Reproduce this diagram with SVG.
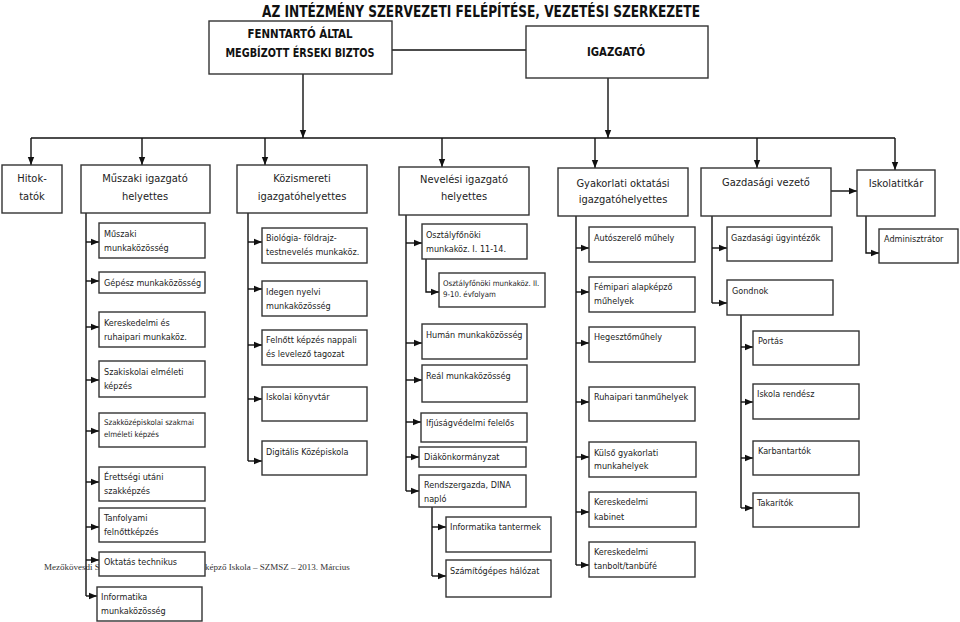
<svg xmlns="http://www.w3.org/2000/svg" width="960" height="622" viewBox="0 0 960 622">
<defs>
<marker id="ah" viewBox="0 0 10 10" refX="10" refY="5" markerWidth="8" markerHeight="8" markerUnits="userSpaceOnUse" orient="auto"><path d="M0,1 L10,5 L0,9 z" fill="#111"/></marker>
<style>
.bx{fill:#fff;stroke:#333;stroke-width:1.4}
.ln{fill:none;stroke:#111;stroke-width:1.4}
.ar{fill:none;stroke:#111;stroke-width:1.4;marker-end:url(#ah)}
text{font-family:"DejaVu Sans Condensed","Liberation Sans",sans-serif;fill:#222}
.t13{font-size:11px;text-anchor:middle}
.t{font-size:9px}
.s{font-size:7.8px}
.b{font-weight:bold;fill:#111}
.ft{font-family:"Liberation Serif","Times New Roman",serif;font-size:9px;fill:#333}
</style>
</defs>
<rect width="960" height="622" fill="#fff"/>
<text class="ft" x="44" y="570">Mezőkövesdi S</text>
<text class="ft" x="205" y="570">képző Iskola – SZMSZ – 2013. Március</text>
<text class="b" x="481" y="17" font-size="15" text-anchor="middle" textLength="438" lengthAdjust="spacingAndGlyphs">AZ INTÉZMÉNY SZERVEZETI FELÉPÍTÉSE, VEZETÉSI SZERKEZETE</text>
<g id="connectors">
<path class="ln" d="M392,50 H526"/>
<path class="ar" d="M303,74 V138"/>
<path class="ar" d="M608,78 V138"/>
<path class="ln" d="M31,138 H895"/>
<path class="ar" d="M31,138 V165"/>
<path class="ar" d="M142,138 V165"/>
<path class="ar" d="M265,138 V165"/>
<path class="ar" d="M442,138 V167"/>
<path class="ar" d="M595,138 V168"/>
<path class="ar" d="M757,138 V168"/>
<path class="ar" d="M895,138 V170"/>
<path class="ar" d="M831,191 H857"/>
<path class="ln" d="M86,213 V596"/>
<path class="ar" d="M86,242 H99"/>
<path class="ar" d="M86,281 H99"/>
<path class="ar" d="M86,327 H99"/>
<path class="ar" d="M86,380 H99"/>
<path class="ar" d="M86,431 H99"/>
<path class="ar" d="M86,482 H99"/>
<path class="ar" d="M86,527 H99"/>
<path class="ar" d="M86,560 H99"/>
<path class="ar" d="M86,596 H97"/>
<path class="ln" d="M248,213 V461"/>
<path class="ar" d="M248,242 H262"/>
<path class="ar" d="M248,289 H262"/>
<path class="ar" d="M248,345 H262"/>
<path class="ar" d="M248,399 H262"/>
<path class="ar" d="M248,461 H262"/>
<path class="ln" d="M406,215 V491"/>
<path class="ar" d="M406,243 H422"/>
<path class="ar" d="M426,259 V292 H439"/>
<path class="ar" d="M406,343 H422"/>
<path class="ar" d="M406,380 H422"/>
<path class="ar" d="M406,422 H421"/>
<path class="ar" d="M406,457 H419"/>
<path class="ar" d="M406,491 H419"/>
<path class="ln" d="M432,507 V576"/>
<path class="ar" d="M432,527 H446"/>
<path class="ar" d="M432,576 H446"/>
<path class="ln" d="M576,216 V565"/>
<path class="ar" d="M576,248 H589"/>
<path class="ar" d="M576,292 H589"/>
<path class="ar" d="M576,343 H589"/>
<path class="ar" d="M576,402 H589"/>
<path class="ar" d="M576,457 H589"/>
<path class="ar" d="M576,512 H589"/>
<path class="ar" d="M576,565 H589"/>
<path class="ln" d="M712,216 V303"/>
<path class="ar" d="M712,248 H727"/>
<path class="ar" d="M712,303 H727"/>
<path class="ln" d="M741,315 V508"/>
<path class="ar" d="M741,347 H753"/>
<path class="ar" d="M741,402 H753"/>
<path class="ar" d="M741,458 H753"/>
<path class="ar" d="M741,508 H753"/>
<path class="ar" d="M866,216 V253 H879"/>
</g>
<g id="fenntarto"><rect class="bx" x="209" y="21" width="183" height="53"/><text class="b" x="300" y="38" font-size="12" text-anchor="middle" textLength="105" lengthAdjust="spacingAndGlyphs">FENNTARTÓ ÁLTAL</text><text class="b" x="300" y="57" font-size="12" text-anchor="middle" textLength="149" lengthAdjust="spacingAndGlyphs">MEGBÍZOTT ÉRSEKI BIZTOS</text></g>
<g id="igazgato"><rect class="bx" x="526" y="26" width="182" height="52"/><text class="b" x="616" y="56" font-size="12.5" text-anchor="middle" textLength="58" lengthAdjust="spacingAndGlyphs">IGAZGATÓ</text></g>
<g id="hitoktatok"><rect class="bx" x="2" y="165" width="60" height="48"/><text class="t13" x="32" y="182">Hitok-</text><text class="t13" x="32" y="200">tatók</text></g>
<g id="muszaki"><rect class="bx" x="81" y="165" width="129" height="48"/><text class="t13" x="145" y="182">Műszaki igazgató</text><text class="t13" x="145" y="200">helyettes</text></g>
<g id="kozismereti"><rect class="bx" x="237" y="165" width="130" height="48"/><text class="t13" x="302" y="182">Közismereti</text><text class="t13" x="302" y="200">igazgatóhelyettes</text></g>
<g id="nevelesi"><rect class="bx" x="399" y="167" width="130" height="48"/><text class="t13" x="464" y="183">Nevelési igazgató</text><text class="t13" x="464" y="200">helyettes</text></g>
<g id="gyakorlati"><rect class="bx" x="558" y="168" width="130" height="48"/><text class="t13" x="623" y="187">Gyakorlati oktatási</text><text class="t13" x="623" y="203">igazgatóhelyettes</text></g>
<g id="gazdasagi"><rect class="bx" x="701" y="168" width="130" height="48"/><text class="t13" x="766" y="186">Gazdasági vezető</text></g>
<g id="iskolatitkar"><rect class="bx" x="857" y="170" width="78" height="46"/><text class="t13" x="896" y="187">Iskolatitkár</text></g>
<g id="m1"><rect class="bx" x="99" y="223" width="106" height="35"/><text class="t" x="104" y="237">Műszaki</text><text class="t" x="104" y="251">munkaközösség</text></g>
<g id="m2"><rect class="bx" x="99" y="272" width="106" height="21"/><text class="t" x="104" y="286">Gépész munkaközösség</text></g>
<g id="m3"><rect class="bx" x="99" y="312" width="106" height="35"/><text class="t" x="104" y="326">Kereskedelmi és</text><text class="t" x="104" y="340">ruhaipari munkaköz.</text></g>
<g id="m4"><rect class="bx" x="99" y="361" width="106" height="36"/><text class="t" x="104" y="375">Szakiskolai elméleti</text><text class="t" x="104" y="389">képzés</text></g>
<g id="m5"><rect class="bx" x="99" y="413" width="106" height="34"/><text class="s" x="104" y="425">Szakközépiskolai szakmai</text><text class="s" x="104" y="437">elméleti képzés</text></g>
<g id="m6"><rect class="bx" x="99" y="467" width="106" height="34"/><text class="t" x="104" y="480">Érettségi utáni</text><text class="t" x="104" y="494">szakképzés</text></g>
<g id="m7"><rect class="bx" x="99" y="508" width="106" height="34"/><text class="t" x="104" y="521">Tanfolyami</text><text class="t" x="104" y="535">felnőttképzés</text></g>
<g id="m8"><rect class="bx" x="99" y="552" width="106" height="24"/><text class="t" x="104" y="565">Oktatás technikus</text></g>
<g id="m9"><rect class="bx" x="97" y="587" width="105" height="34"/><text class="t" x="101" y="600">Informatika</text><text class="t" x="101" y="614">munkaközösség</text></g>
<g id="k1"><rect class="bx" x="262" y="228" width="105" height="35"/><text class="t" x="266" y="241">Biológia- földrajz-</text><text class="t" x="266" y="255">testnevelés munkaköz.</text></g>
<g id="k2"><rect class="bx" x="262" y="281" width="105" height="35"/><text class="t" x="266" y="295">Idegen nyelvi</text><text class="t" x="266" y="309">munkaközösség</text></g>
<g id="k3"><rect class="bx" x="262" y="330" width="105" height="35"/><text class="t" x="266" y="343">Felnőtt képzés nappali</text><text class="t" x="266" y="357">és levelező tagozat</text></g>
<g id="k4"><rect class="bx" x="262" y="387" width="105" height="34"/><text class="t" x="266" y="400">Iskolai könyvtár</text></g>
<g id="k5"><rect class="bx" x="262" y="441" width="105" height="34"/><text class="t" x="266" y="455">Digitális Középiskola</text></g>
<g id="n1"><rect class="bx" x="422" y="224" width="105" height="35"/><text class="t" x="426" y="238">Osztályfőnöki</text><text class="t" x="426" y="252">munkaköz. I. 11-14.</text></g>
<g id="n1a"><rect class="bx" x="439" y="273" width="106" height="34"/><text class="s" x="443" y="286">Osztályfőnöki munkaköz. II.</text><text class="s" x="443" y="297">9-10. évfolyam</text></g>
<g id="n2"><rect class="bx" x="422" y="324" width="105" height="35"/><text class="t" x="426" y="338">Humán munkaközösség</text></g>
<g id="n3"><rect class="bx" x="422" y="365" width="105" height="37"/><text class="t" x="426" y="379">Reál munkaközösség</text></g>
<g id="n4"><rect class="bx" x="421" y="413" width="106" height="29"/><text class="t" x="426" y="426">Ifjúságvédelmi felelős</text></g>
<g id="n5"><rect class="bx" x="419" y="447" width="107" height="20"/><text class="t" x="424" y="460">Diákönkormányzat</text></g>
<g id="n6"><rect class="bx" x="419" y="475" width="107" height="32"/><text class="t" x="424" y="488">Rendszergazda, DINA</text><text class="t" x="424" y="502">napló</text></g>
<g id="n6a"><rect class="bx" x="446" y="517" width="105" height="35"/><text class="t" x="450" y="530">Informatika tantermek</text></g>
<g id="n6b"><rect class="bx" x="446" y="560" width="105" height="37"/><text class="t" x="450" y="574">Számítógépes hálózat</text></g>
<g id="g1"><rect class="bx" x="589" y="227" width="106" height="35"/><text class="t" x="594" y="241">Autószerelő műhely</text></g>
<g id="g2"><rect class="bx" x="589" y="277" width="106" height="35"/><text class="t" x="594" y="290">Fémipari alapképző</text><text class="t" x="594" y="304">műhelyek</text></g>
<g id="g3"><rect class="bx" x="589" y="327" width="106" height="35"/><text class="t" x="594" y="340">Hegesztőműhely</text></g>
<g id="g4"><rect class="bx" x="589" y="387" width="106" height="34"/><text class="t" x="594" y="400">Ruhaipari tanműhelyek</text></g>
<g id="g5"><rect class="bx" x="589" y="442" width="107" height="35"/><text class="t" x="594" y="456">Külső gyakorlati</text><text class="t" x="594" y="469">munkahelyek</text></g>
<g id="g6"><rect class="bx" x="589" y="492" width="107" height="35"/><text class="t" x="594" y="505">Kereskedelmi</text><text class="t" x="594" y="520">kabinet</text></g>
<g id="g7"><rect class="bx" x="589" y="542" width="106" height="35"/><text class="t" x="594" y="555">Kereskedelmi</text><text class="t" x="594" y="569">tanbolt/tanbüfé</text></g>
<g id="z1"><rect class="bx" x="727" y="227" width="105" height="34"/><text class="t" x="731" y="241">Gazdasági ügyintézők</text></g>
<g id="z2"><rect class="bx" x="727" y="280" width="106" height="35"/><text class="t" x="732" y="294">Gondnok</text></g>
<g id="z3"><rect class="bx" x="753" y="331" width="106" height="34"/><text class="t" x="758" y="344">Portás</text></g>
<g id="z4"><rect class="bx" x="753" y="384" width="106" height="35"/><text class="t" x="757" y="397">Iskola rendész</text></g>
<g id="z5"><rect class="bx" x="753" y="441" width="106" height="34"/><text class="t" x="758" y="454">Karbantartók</text></g>
<g id="z6"><rect class="bx" x="753" y="493" width="106" height="34"/><text class="t" x="757" y="506">Takarítók</text></g>
<g id="adminisztrator"><rect class="bx" x="879" y="229" width="79" height="34"/><text class="t" x="884" y="242">Adminisztrátor</text></g>
</svg>
